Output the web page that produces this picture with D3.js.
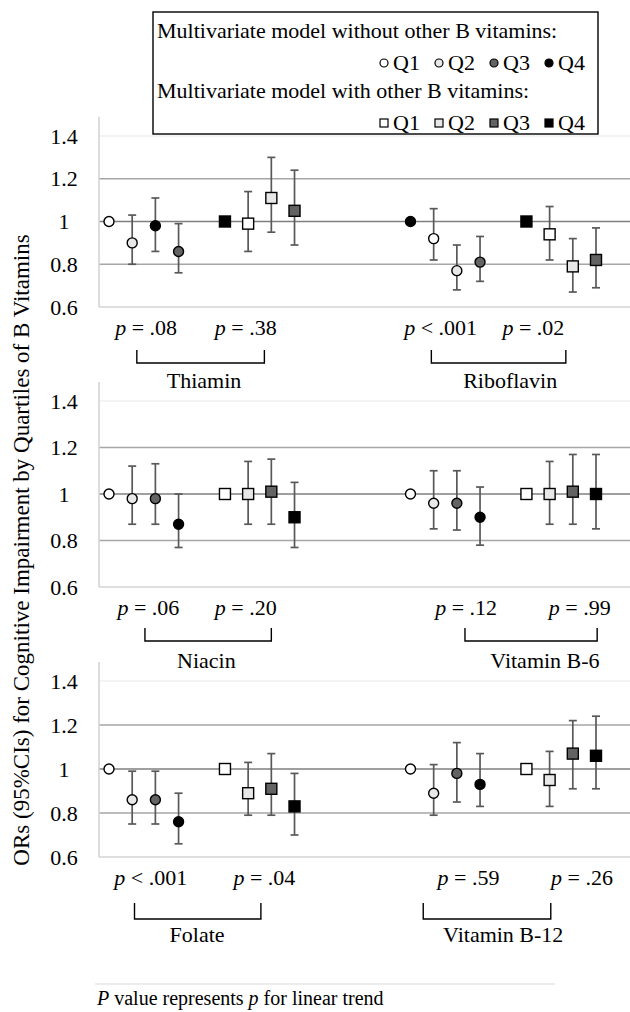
<!DOCTYPE html>
<html><head><meta charset="utf-8">
<script src="https://cdn.jsdelivr.net/npm/d3@7"></script>
<style>body{margin:0;background:#fff}svg{display:block}
text{font-family:"Liberation Serif","Times New Roman",serif;fill:#000}</style>
</head><body><svg id="c" width="630" height="1012"></svg>
<script>
// ---------- data ----------
const vitamins = ["Thiamin", "Riboflavin", "Niacin", "Vitamin B-6", "Folate", "Vitamin B-12"];
const quartiles = ["Q1", "Q2", "Q3", "Q4"];
const yTicks = [0.6, 0.8, 1, 1.2, 1.4];
const yTickLabels = ["0.6", "0.8", "1", "1.2", "1.4"];

// model without other B vitamins (circles)
const orWithout = [
  [1.00, 0.90, 0.98, 0.86], [1.00, 0.92, 0.77, 0.81], [1.00, 0.98, 0.98, 0.87],
  [1.00, 0.96, 0.96, 0.90], [1.00, 0.86, 0.86, 0.76], [1.00, 0.89, 0.98, 0.93]];
const loWithout = [
  [null, 0.80, 0.86, 0.76], [null, 0.82, 0.68, 0.72], [null, 0.87, 0.87, 0.77],
  [null, 0.85, 0.845, 0.78], [null, 0.75, 0.75, 0.66], [null, 0.79, 0.85, 0.83]];
const hiWithout = [
  [null, 1.03, 1.11, 0.99], [null, 1.06, 0.89, 0.93], [null, 1.12, 1.13, 1.00],
  [null, 1.10, 1.10, 1.03], [null, 0.99, 0.99, 0.89], [null, 1.02, 1.12, 1.07]];
const shadeWithout = [
  [0, 1, 3, 2], [3, 0, 1, 2], [0, 1, 2, 3], [0, 1, 2, 3], [0, 1, 2, 3], [0, 1, 2, 3]];

// model with other B vitamins (squares)
const orWith = [
  [1.00, 0.99, 1.11, 1.05], [1.00, 0.94, 0.79, 0.82], [1.00, 1.00, 1.01, 0.90],
  [1.00, 1.00, 1.01, 1.00], [1.00, 0.89, 0.91, 0.83], [1.00, 0.95, 1.07, 1.06]];
const loWith = [
  [null, 0.86, 0.95, 0.89], [null, 0.82, 0.67, 0.69], [null, 0.87, 0.87, 0.77],
  [null, 0.87, 0.87, 0.85], [null, 0.79, 0.79, 0.70], [null, 0.83, 0.91, 0.91]];
const hiWith = [
  [null, 1.14, 1.30, 1.24], [null, 1.07, 0.92, 0.97], [null, 1.14, 1.15, 1.05],
  [null, 1.14, 1.17, 1.17], [null, 1.03, 1.07, 0.98], [null, 1.08, 1.22, 1.24]];
const shadeWith = [
  [3, 0, 1, 2], [3, 0, 1, 2], [0, 1, 2, 3], [0, 1, 2, 3], [0, 1, 2, 3], [0, 1, 2, 3]];

const pWithout = ["= .08", "< .001", "= .06", "= .12", "< .001", "= .59"];
const pWith = ["= .38", "= .02", "= .20", "= .99", "= .04", "= .26"];

// ---------- styles / layout ----------
const shades = ["#ffffff", "#e8e8e8", "#636363", "#000000"];
const FS = 22;
const svg = d3.select("#c");

const x = d3.scaleLinear().domain([0, 21]).range([109, 596]);
const panelRanges = [[307, 136], [587, 401], [857, 681]];
const leftX = 99, rightX = 630;
// annotation layout in slot units
const pPos = [[1.6, 5.9, 14.3, 18.3], [1.7, 5.9, 15.4, 20.3], [1.8, 6.7, 15.5, 20.4]];
const bracketPos = [[1.2, 6.7, 13.9, 19.7], [1.55, 7.0, 15.35, 21.05], [1.1, 6.55, 13.55, 19.05]];
const namePos = [[4.1, 17.3], [4.2, 18.8], [3.8, 17.0]];
const bracketOff = [[43, 56, 81], [41, 54, 81], [46, 62, 85]];

panelRanges.forEach((rng, r) => {
  const y = d3.scaleLinear().domain([0.6, 1.4]).range(rng);
  const g = svg.append("g");
  // gridlines
  yTicks.forEach((t, i) => {
    const col = t === 1 ? "#7f7f7f" : t === 1.4 ? "#efefef" : t === 0.6 ? "#d4d4d4" : "#a6a6a6";
    g.append("line").attr("x1", leftX).attr("x2", rightX)
      .attr("y1", y(t)).attr("y2", y(t)).attr("stroke", col).attr("stroke-width", 1.6);
    g.append("text").attr("x", 64).attr("y", y(t)).attr("dy", "0.35em")
      .attr("text-anchor", "middle").attr("font-size", FS).text(yTickLabels[i]);
  });
  g.append("line").attr("x1", leftX).attr("x2", leftX)
    .attr("y1", y(1.4) - 19).attr("y2", y(0.6)).attr("stroke", "#d4d4d4").attr("stroke-width", 1.6);

  [0, 1].forEach(side => {
    const v = r * 2 + side;
    const base = side === 0 ? 0 : 13;
    const series = [
      {or: orWithout[v], lo: loWithout[v], hi: hiWithout[v], sh: shadeWithout[v], off: 0, sym: "circle"},
      {or: orWith[v], lo: loWith[v], hi: hiWith[v], sh: shadeWith[v], off: 5, sym: "square"}];
    series.forEach(s => {
      quartiles.forEach((q, i) => {
        const cx = x(base + s.off + i);
        if (s.lo[i] != null) {
          g.append("line").attr("x1", cx).attr("x2", cx).attr("y1", y(s.lo[i])).attr("y2", y(s.hi[i]))
            .attr("stroke", "#595959").attr("stroke-width", 1.7);
          [s.lo[i], s.hi[i]].forEach(val => g.append("line").attr("x1", cx - 4).attr("x2", cx + 4)
            .attr("y1", y(val)).attr("y2", y(val)).attr("stroke", "#595959").attr("stroke-width", 1.7));
        }
        if (s.sym === "circle") {
          g.append("circle").attr("cx", cx).attr("cy", y(s.or[i])).attr("r", 5)
            .attr("fill", shades[s.sh[i]]).attr("stroke", "#000").attr("stroke-width", 1.4);
        } else {
          g.append("rect").attr("x", cx - 5.5).attr("y", y(s.or[i]) - 5.5).attr("width", 11).attr("height", 11)
            .attr("fill", shades[s.sh[i]]).attr("stroke", "#000").attr("stroke-width", 1.4);
        }
      });
    });
    // p labels
    const y06 = y(0.6);
    [[pWithout[v], pPos[r][side * 2]], [pWith[v], pPos[r][side * 2 + 1]]].forEach(([txt, pos]) => {
      const t = g.append("text").attr("x", x(pos)).attr("y", y06 + 28).attr("text-anchor", "middle").attr("font-size", FS);
      t.append("tspan").attr("font-style", "italic").text("p");
      t.append("tspan").text(" " + txt);
    });
    // bracket
    const b0 = x(bracketPos[r][side * 2]), b1 = x(bracketPos[r][side * 2 + 1]);
    const o = bracketOff[r];
    g.append("path").attr("d", `M${b0},${y06 + o[0]}V${y06 + o[1]}H${b1}V${y06 + o[0]}`)
      .attr("fill", "none").attr("stroke", "#000").attr("stroke-width", 1.4);
    g.append("text").attr("x", x(namePos[r][side])).attr("y", y06 + o[2]).attr("text-anchor", "middle")
      .attr("font-size", FS).text(vitamins[v]);
  });
});

// y axis title
svg.append("text").attr("transform", "translate(29,550) rotate(-90)").attr("text-anchor", "middle")
  .attr("font-size", 23).text("ORs (95%CIs) for Cognitive Impairment by Quartiles of B Vitamins");

// legend
const lg = svg.append("g");
lg.append("rect").attr("x", 153).attr("y", 12).attr("width", 445).attr("height", 122)
  .attr("fill", "#fff").attr("stroke", "#000").attr("stroke-width", 1.4);
lg.append("text").attr("x", 157).attr("y", 38).attr("font-size", FS).text("Multivariate model without other B vitamins:");
lg.append("text").attr("x", 157).attr("y", 98).attr("font-size", FS).text("Multivariate model with other B vitamins:");
const legX = [384, 439, 494, 549];
quartiles.forEach((q, i) => {
  lg.append("circle").attr("cx", legX[i]).attr("cy", 63).attr("r", 4)
    .attr("fill", shades[i]).attr("stroke", "#000").attr("stroke-width", 1.2);
  lg.append("text").attr("x", legX[i] + 9).attr("y", 70).attr("font-size", FS).text(q);
  lg.append("rect").attr("x", legX[i] - 4).attr("y", 119).attr("width", 8).attr("height", 8)
    .attr("fill", shades[i]).attr("stroke", "#000").attr("stroke-width", 1.2);
  lg.append("text").attr("x", legX[i] + 9).attr("y", 130).attr("font-size", FS).text(q);
});

// footnote
svg.append("line").attr("x1", 95).attr("x2", 555).attr("y1", 984).attr("y2", 984)
  .attr("stroke", "#d9d9d9").attr("stroke-width", 1);
const fn = svg.append("text").attr("x", 97).attr("y", 1005).attr("font-size", 20);
fn.append("tspan").attr("font-style", "italic").text("P");
fn.append("tspan").text("  value represents ");
fn.append("tspan").attr("font-style", "italic").text("p");
fn.append("tspan").text("  for linear trend");
</script></body></html>
